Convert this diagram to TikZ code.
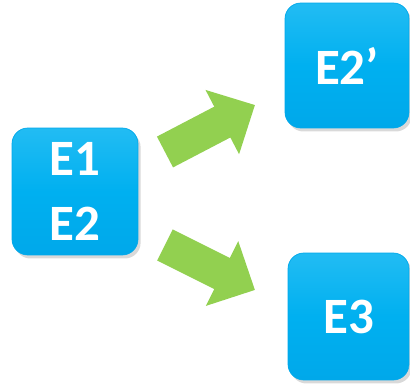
\documentclass[tikz,border=0pt]{standalone}
\usepackage{fontspec}
\setmainfont{Carlito}
\usetikzlibrary{arrows.meta,shadows}
\definecolor{boxblue}{HTML}{00B0F0}
\definecolor{boxlight}{HTML}{22BCF3}
\definecolor{boxdark}{HTML}{00A8EA}
\definecolor{arrowgreen}{HTML}{92D050}
\begin{document}
\begin{tikzpicture}[
    x=0.02cm, y=-0.02cm,
    box/.style={rounded corners=9pt, minimum width=2.5cm, minimum height=2.5cm, align=center,
        top color=boxlight, bottom color=boxdark, middle color=boxblue, draw=boxdark, thin,
        text=white, font=\fontsize{29}{37}\selectfont\bfseries,
        drop shadow={opacity=0.3, shadow xshift=1.5pt, shadow yshift=-2pt}},
    bigarrow/.style={arrowgreen, line width=19.8pt, -{Triangle[length=21pt, width=40pt]}}
]

% Marco
\useasboundingbox (0,0) rectangle (410,385);

% Cajas
\node[box, minimum width=2.52cm, minimum height=2.54cm] (e12) at (75,191.5) {E1\\E2};
\node[box, minimum width=2.48cm] (e2p) at (347,65.5) {E2’};
\node[box, minimum width=2.42cm, minimum height=2.54cm] (e3) at (348.5,316.5) {E3};

% Flechas
\coordinate (up tail) at (165,152);
\coordinate (up tip) at (255,105);
\coordinate (down tail) at (165,245);
\coordinate (down tip) at (255,290);
\draw[bigarrow] (up tail) -- (up tip);
\draw[bigarrow] (down tail) -- (down tip);

\end{tikzpicture}
\end{document}
